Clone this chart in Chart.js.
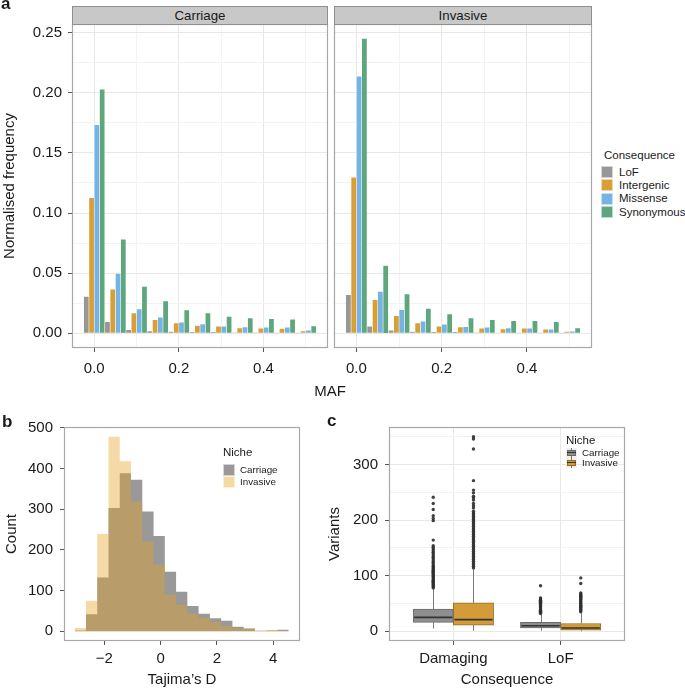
<!DOCTYPE html>
<html>
<head>
<meta charset="utf-8">
<title>MAF spectra, Tajima's D and variant counts</title>
<script src="https://cdn.jsdelivr.net/npm/chart.js@4.4.0/dist/chart.umd.min.js"></script>
<style>
  body { margin: 0; background: #fff; font-family: "Liberation Sans", Arial, Helvetica, sans-serif; color: #1a1a1a; }
  #fig { position: relative; width: 685px; height: 690px; overflow: hidden; }
  canvas { position: absolute; }
  .txt { position: absolute; white-space: nowrap; }
  .panel-label { position: absolute; font-weight: bold; font-size: 17px; line-height: 17px; }
  .strip { position: absolute; height: 19px; background: #c8c8c8; border: 1px solid #8f8f8f; box-sizing: border-box;
           font-size: 13.3px; line-height: 17px; text-align: center; }
  .key { position: absolute; width: 12px; height: 12px; box-sizing: border-box; border: 1px solid rgba(255,255,255,0.6); }
  .bkey { position: absolute; width: 11px; height: 10px; background: #f0f0f0; }
  .bkey .wh { position: absolute; left: 5px; top: 0; width: 1px; height: 10px; background: #777; }
  .bkey .bx { position: absolute; left: 1px; top: 2px; width: 9px; height: 6px; box-sizing: border-box; border: 1px solid; }
  .bkey .md { position: absolute; left: 1px; top: 4px; width: 9px; height: 1px; background: #333; }
</style>
</head>
<body>
<div id="fig">
  <canvas id="carriageChart" width="332" height="385" style="left:0;top:0"></canvas>
  <canvas id="invasiveChart" width="266" height="385" style="left:330px;top:0"></canvas>
  <canvas id="tajimaChart" width="310" height="310" style="left:0;top:380px"></canvas>
  <canvas id="boxChart" width="310" height="310" style="left:320px;top:380px"></canvas>

  <div class="panel-label" style="left:1px;top:-5px">a</div>
  <div class="panel-label" style="left:2px;top:413px">b</div>
  <div class="panel-label" style="left:327px;top:412px">c</div>

  <div class="strip" style="left:72px;top:6px;width:256px">Carriage</div>
  <div class="strip" style="left:334px;top:6px;width:258px">Invasive</div>
  <div class="txt" style="left:300px;top:383px;width:60px;text-align:center;font-size:15px;line-height:15px">MAF</div>

  <div id="legendA"></div>
  <div id="legendB"></div>
  <div id="legendC"></div>
</div>

<script>
// ---------- panel a: site frequency spectrum ----------
const mafBins = [0, 0.05, 0.1, 0.15, 0.2, 0.25, 0.3, 0.35, 0.4, 0.45, 0.5];
const consequences = ['LoF', 'Intergenic', 'Missense', 'Synonymous'];

const carriageLoF        = [0.0307, 0.0097, 0.0030, 0.0020, 0.0014, 0.0010, 0.0008, 0.0005, 0.0005, 0.0003, 0.0001];
const carriageIntergenic = [0.1127, 0.0367, 0.0168, 0.0113, 0.0086, 0.0064, 0.0058, 0.0044, 0.0041, 0.0039, 0.0019];
const carriageMissense   = [0.1735, 0.0497, 0.0202, 0.0133, 0.0091, 0.0077, 0.0058, 0.0052, 0.0050, 0.0050, 0.0025];
const carriageSynonymous = [0.2030, 0.0782, 0.0390, 0.0268, 0.0193, 0.0169, 0.0140, 0.0127, 0.0122, 0.0116, 0.0060];

const invasiveLoF        = [0.0320, 0.0058, 0.0025, 0.0014, 0.0010, 0.0008, 0.0005, 0.0004, 0.0003, 0.0002, 0.0001];
const invasiveIntergenic = [0.1298, 0.0279, 0.0146, 0.0086, 0.0058, 0.0052, 0.0041, 0.0036, 0.0041, 0.0033, 0.0014];
const invasiveMissense   = [0.2138, 0.0348, 0.0196, 0.0100, 0.0075, 0.0055, 0.0050, 0.0044, 0.0041, 0.0033, 0.0017];
const invasiveSynonymous = [0.2453, 0.0564, 0.0326, 0.0207, 0.0160, 0.0127, 0.0113, 0.0105, 0.0105, 0.0097, 0.0044];

const mafTicks = [0, 0.2, 0.4];
const freqTicks = [0, 0.05, 0.1, 0.15, 0.2, 0.25];

// ---------- panel b: Tajima's D histogram ----------
const tajimaBins = [-2.85, -2.45, -2.05, -1.65, -1.25, -0.85, -0.45, -0.05, 0.35, 0.75,
                    1.15, 1.55, 1.95, 2.35, 2.75, 3.15, 3.55, 3.95, 4.35];
const tajimaBinWidth = 0.4;
const tajimaCarriage = [2, 42, 132, 303, 388, 372, 294, 234, 146, 97, 62, 43, 32, 26, 11, 7, 1, 2, 4];
const tajimaInvasive = [8, 75, 239, 478, 418, 319, 220, 164, 90, 66, 43, 34, 23, 13, 7, 7, 1, 3, 1];
const tajimaTicks = [-2, 0, 2, 4];
const countTicks = [0, 100, 200, 300, 400, 500];

// ---------- panel c: variants per isolate ----------
const boxCategories = ['Damaging', 'LoF'];
const carriageLow    = [5, 1];
const carriageQ1     = [16, 6];
const carriageMedian = [25, 10];
const carriageQ3     = [40, 16];
const carriageHigh   = [76, 30];
const invasiveLow    = [1, 0];
const invasiveQ1     = [11, 2];
const invasiveMedian = [21, 6];
const invasiveQ3     = [51, 14];
const invasiveHigh   = [112, 33];

const carriageDamagingOutliers = [78, 80, 82, 84, 86, 88, 90, 92, 94, 96, 98, 100, 102, 104, 106, 108, 110, 112,
  114, 116, 118, 121, 124, 127, 130, 133, 136, 139, 142, 145, 148, 151, 154, 164, 199, 203, 208, 219, 230, 241];
const invasiveDamagingOutliers = [114, 117, 120, 123, 126, 129, 132, 135, 138, 141, 144, 147, 150, 153, 156, 159,
  162, 165, 168, 171, 174, 177, 180, 183, 186, 189, 192, 195, 198, 201, 204, 207, 210, 213, 216, 222, 226, 230,
  236, 240, 243, 249, 254, 271, 328, 346, 350];
const carriageLoFOutliers = [32, 34, 36, 38, 40, 42, 44, 46, 48, 50, 52, 54, 56, 58, 60, 82];
const invasiveLoFOutliers = [35, 37, 39, 41, 43, 45, 47, 49, 51, 53, 55, 57, 59, 61, 63, 65, 67, 69, 86, 96];
const variantTicks = [0, 100, 200, 300];

// ---------- styling ----------
const FONT = { family: '"Liberation Sans", Arial, Helvetica, sans-serif', size: 15 };
const TEXT = '#1a1a1a';
const GRID = '#e8e8e8';
const GRID_MINOR = '#f3f3f3';
const TICK = '#555';
const consequenceColours = ['#979797', '#d89f37', '#74b3e3', '#5ea67c'];
const DODGE = 0.1875;

Chart.defaults.font.family = FONT.family;
Chart.defaults.color = TEXT;

// major ticks plus ggplot style minor lines half way between them
function withMinor(major, extraEnd) {
  const out = [];
  const step = major[1] - major[0];
  major.forEach((v, i) => {
    out.push({ value: v });
    if (i < major.length - 1 || extraEnd) out.push({ value: v + step / 2, minor: true });
  });
  return out;
}

function axis(o) {
  return {
    type: 'linear',
    min: o.min,
    max: o.max,
    offset: false,
    afterBuildTicks: s => { s.ticks = o.ticks.map(t => Object.assign({}, t)); },
    afterFit: s => {
      if (s.isHorizontal()) s.height = o.size; else s.width = o.size;
    },
    border: { display: false },
    grid: {
      offset: false,
      drawOnChartArea: o.grid !== false,
      drawTicks: o.marks !== false,
      tickLength: 4,
      lineWidth: 1,
      color: c => (c.tick && c.tick.minor ? GRID_MINOR : GRID),
      tickColor: c => (c.tick && c.tick.minor ? 'rgba(0,0,0,0)' : TICK)
    },
    ticks: {
      display: o.labels !== false,
      autoSkip: false,
      maxRotation: 0,
      padding: o.pad || 6,
      color: TEXT,
      font: FONT,
      callback: (v, i, ticks) => (ticks[i].minor ? '' : o.fmt(v))
    },
    title: o.title
      ? { display: true, text: o.title, color: TEXT, font: FONT, padding: o.titlePad }
      : { display: false }
  };
}

const panelBorder = {
  id: 'panelBorder',
  afterDraw(chart) {
    const { ctx, chartArea: a } = chart;
    ctx.save();
    ctx.strokeStyle = '#a8a8a8';
    ctx.lineWidth = 1.2;
    ctx.strokeRect(a.left + 0.5, a.top + 0.5, a.width - 1, a.height - 1);
    ctx.restore();
  }
};

const baseOptions = {
  responsive: false,
  animation: false,
  devicePixelRatio: 1,
  events: [],
  plugins: { legend: { display: false }, tooltip: { enabled: false } }
};

// ---------- panel a ----------
function sfsChart(id, series, showY) {
  const datasets = series.map((vals, k) => ({
    label: consequences[k],
    data: mafBins.map((x, i) => ({ x, y: vals[i] })),
    backgroundColor: consequenceColours[k],
    borderColor: 'rgba(255,255,255,0.45)',
    borderWidth: 0.6,
    categoryPercentage: 1,
    barPercentage: 1
  }));
  return new Chart(document.getElementById(id), {
    type: 'bar',
    data: { datasets },
    options: Object.assign({}, baseOptions, {
      layout: { padding: { top: 24, right: 4, left: 0, bottom: 0 } },
      scales: {
        x: axis({ min: -0.0525, max: 0.5525, ticks: withMinor(mafTicks, true), size: 37, pad: 8,
                  fmt: v => v.toFixed(1) }),
        y: axis({ min: -0.01225, max: 0.25725, ticks: withMinor(freqTicks, false), size: showY ? 72 : 4,
                  labels: showY, marks: showY, pad: 6, fmt: v => v.toFixed(2),
                  title: showY ? 'Normalised frequency' : null, titlePad: { top: 1, bottom: 0 } })
      }
    }),
    plugins: [panelBorder]
  });
}

sfsChart('carriageChart', [carriageLoF, carriageIntergenic, carriageMissense, carriageSynonymous], true);
sfsChart('invasiveChart', [invasiveLoF, invasiveIntergenic, invasiveMissense, invasiveSynonymous], false);

// ---------- panel b ----------
const minus = v => (v < 0 ? '\u2212' + Math.abs(v) : String(v));

// histogram drawn as a filled step outline so adjacent bins have no seams
function stepData(counts) {
  const pts = tajimaBins.map((c, i) => ({ x: c - tajimaBinWidth / 2, y: counts[i] }));
  const last = tajimaBins.length - 1;
  pts.push({ x: tajimaBins[last] + tajimaBinWidth / 2, y: counts[last] });
  return pts;
}

new Chart(document.getElementById('tajimaChart'), {
  type: 'line',
  data: {
    datasets: [
      { label: 'Invasive', order: 0, data: stepData(tajimaInvasive), stepped: 'before', fill: 'origin',
        backgroundColor: 'rgba(230,160,32,0.4)', borderWidth: 0, pointRadius: 0 },
      { label: 'Carriage', order: 1, data: stepData(tajimaCarriage), stepped: 'before', fill: 'origin',
        backgroundColor: 'rgba(128,128,128,0.8)', borderWidth: 0, pointRadius: 0 }
    ]
  },
  options: Object.assign({}, baseOptions, {
    layout: { padding: { top: 47, right: 10, left: 0, bottom: 0 } },
    scales: {
      x: axis({ min: -3.43, max: 4.95, ticks: tajimaTicks.map(v => ({ value: v })), size: 49, pad: 5,
                grid: false, fmt: minus, title: 'Tajima\u2019s D', titlePad: { top: 0, bottom: 1 } }),
      y: axis({ min: -23.9, max: 501.9, ticks: countTicks.map(v => ({ value: v })), size: 64, pad: 7,
                grid: false, fmt: v => String(v), title: 'Count', titlePad: { top: 3, bottom: 0 } })
    }
  }),
  plugins: [panelBorder]
});

// ---------- panel c ----------
const niches = [
  { name: 'Carriage', side: -1, low: carriageLow, q1: carriageQ1, med: carriageMedian, q3: carriageQ3, high: carriageHigh,
    outliers: [carriageDamagingOutliers, carriageLoFOutliers], fill: '#8e8e8e', edge: '#6a6a6a' },
  { name: 'Invasive', side: 1, low: invasiveLow, q1: invasiveQ1, med: invasiveMedian, q3: invasiveQ3, high: invasiveHigh,
    outliers: [invasiveDamagingOutliers, invasiveLoFOutliers], fill: '#d49c38', edge: '#8f6c28' }
];

const boxExtras = {
  id: 'boxExtras',
  beforeDatasetsDraw(chart) {
    const { ctx, scales: { x, y } } = chart;
    ctx.save();
    ctx.lineWidth = 1;
    ctx.strokeStyle = '#7a7a7a';
    niches.forEach(n => n.low.forEach((lo, i) => {
      const px = Math.round(x.getPixelForValue(i + 1 + n.side * DODGE)) + 0.5;
      ctx.beginPath();
      ctx.moveTo(px, y.getPixelForValue(lo));
      ctx.lineTo(px, y.getPixelForValue(n.q1[i]));
      ctx.moveTo(px, y.getPixelForValue(n.q3[i]));
      ctx.lineTo(px, y.getPixelForValue(n.high[i]));
      ctx.stroke();
    }));
    ctx.restore();
  },
  afterDatasetsDraw(chart) {
    const { ctx, scales: { x, y } } = chart;
    const half = x.getPixelForValue(1 + DODGE) - x.getPixelForValue(1);
    ctx.save();
    ctx.lineWidth = 1.6;
    ctx.strokeStyle = '#333';
    niches.forEach(n => n.med.forEach((m, i) => {
      const cx = x.getPixelForValue(i + 1 + n.side * DODGE);
      const py = y.getPixelForValue(m);
      ctx.beginPath();
      ctx.moveTo(cx - half + 1, py);
      ctx.lineTo(cx + half - 1, py);
      ctx.stroke();
    }));
    ctx.restore();
  }
};

const boxDatasets = [];
niches.forEach(n => {
  boxDatasets.push({
    type: 'bar', label: n.name, order: 2,
    data: boxCategories.map((c, i) => ({ x: i + 1 + n.side * DODGE, y: [n.q1[i], n.q3[i]] })),
    backgroundColor: n.fill, borderColor: n.edge, borderWidth: 1, borderSkipped: false,
    categoryPercentage: 1, barPercentage: 1, grouped: false
  });
  boxCategories.forEach((c, i) => {
    boxDatasets.push({
      type: 'scatter', label: n.name + ' ' + c + ' outliers', order: 1,
      data: n.outliers[i].map(v => ({ x: i + 1 + n.side * DODGE, y: v })),
      pointRadius: 1.7, pointBackgroundColor: 'rgba(45,45,45,0.9)', pointBorderWidth: 0
    });
  });
});

new Chart(document.getElementById('boxChart'), {
  type: 'bar',
  data: { datasets: boxDatasets },
  options: Object.assign({}, baseOptions, {
    layout: { padding: { top: 47, right: 5, left: 0, bottom: 0 } },
    scales: {
      x: axis({ min: 0.4, max: 2.6, ticks: boxCategories.map((c, i) => ({ value: i + 1 })), size: 49, pad: 5,
                fmt: v => boxCategories[Math.round(v) - 1], title: 'Consequence', titlePad: { top: 0, bottom: 1 } }),
      y: axis({ min: -17.5, max: 367.5, ticks: withMinor(variantTicks, true), size: 69, pad: 7,
                fmt: v => String(v), title: 'Variants', titlePad: { top: 6, bottom: 0 } })
    }
  }),
  plugins: [boxExtras, panelBorder]
});

// ---------- legends (html) ----------
function addText(parent, text, left, top, size, extra) {
  const d = document.createElement('div');
  d.className = 'txt';
  d.textContent = text;
  d.style.cssText += `left:${left}px;top:${top}px;font-size:${size}px;line-height:${size}px;` + (extra || '');
  parent.appendChild(d);
  return d;
}

const legA = document.getElementById('legendA');
addText(legA, 'Consequence', 604, 150, 11.5);
consequences.forEach((name, k) => {
  const top = 166 + k * 13.4;
  const key = document.createElement('div');
  key.className = 'key';
  key.style.cssText += `left:601px;top:${top}px;background:${consequenceColours[k]}`;
  legA.appendChild(key);
  addText(legA, name, 619, top + 0.5, 11.5);
});

const legB = document.getElementById('legendB');
addText(legB, 'Niche', 223, 447, 11.5);
[['Carriage', 'rgb(153,153,153)'], ['Invasive', 'rgb(245,216,164)']].forEach(([name, col], k) => {
  const top = 464 + k * 12;
  const key = document.createElement('div');
  key.className = 'key';
  key.style.cssText += `left:223px;top:${top}px;background:${col}`;
  legB.appendChild(key);
  addText(legB, name, 240, top + 1, 9.8);
});

const legC = document.getElementById('legendC');
addText(legC, 'Niche', 566, 435, 11.5);
niches.forEach((n, k) => {
  const top = 448 + k * 10;
  const key = document.createElement('div');
  key.className = 'bkey';
  key.style.cssText += `left:566px;top:${top}px`;
  key.innerHTML = `<div class="wh"></div><div class="bx" style="background:${n.fill};border-color:${n.edge}"></div><div class="md"></div>`;
  legC.appendChild(key);
  addText(legC, n.name, 582, top, 9.8);
});
</script>
</body>
</html>
